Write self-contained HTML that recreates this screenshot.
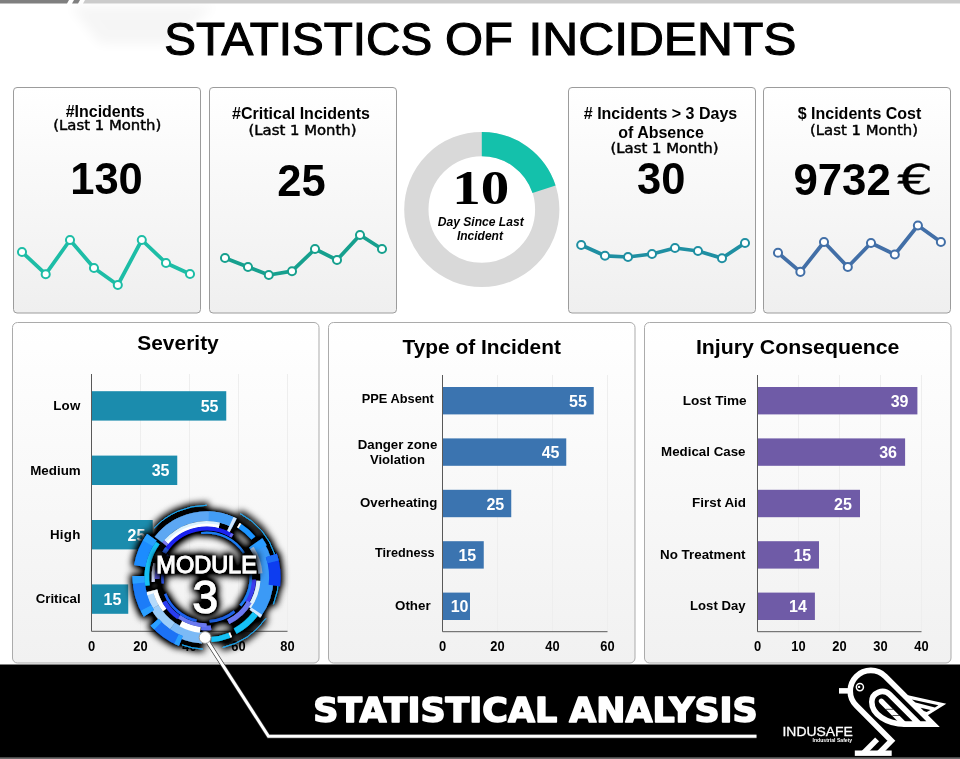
<!DOCTYPE html>
<html lang="en"><head><meta charset="utf-8"><title>Statistics of Incidents</title>
<style>
html,body{margin:0;padding:0;background:#fff;}
body{width:960px;height:759px;overflow:hidden;font-family:"Liberation Sans",sans-serif;}
svg{display:block}
</style></head><body>
<svg width="960" height="759" viewBox="0 0 960 759">
<defs>
<linearGradient id="cardg" x1="0" y1="0" x2="0" y2="1"><stop offset="0" stop-color="#ffffff"/><stop offset="1" stop-color="#efefef"/></linearGradient>
<linearGradient id="paneg" x1="0" y1="0" x2="0" y2="1"><stop offset="0" stop-color="#ffffff"/><stop offset="1" stop-color="#f1f1f1"/></linearGradient>
<filter id="bshadow" x="-20%" y="-20%" width="140%" height="140%"><feMorphology in="SourceAlpha" operator="dilate" radius="1.6" result="d"/><feGaussianBlur in="d" stdDeviation="3.6" result="b"/><feComponentTransfer in="b" result="s"><feFuncA type="linear" slope="1.3"/></feComponentTransfer><feMerge><feMergeNode in="s"/><feMergeNode in="SourceGraphic"/></feMerge></filter>
<filter id="tshadow" x="-30%" y="-30%" width="160%" height="160%"><feMorphology in="SourceAlpha" operator="dilate" radius="0.8" result="d"/><feGaussianBlur in="d" stdDeviation="4" result="b"/><feComponentTransfer in="b" result="s"><feFuncA type="linear" slope="2.3"/></feComponentTransfer><feMerge><feMergeNode in="s"/><feMergeNode in="SourceGraphic"/></feMerge></filter>
<filter id="glow2" x="-30%" y="-30%" width="160%" height="160%"><feGaussianBlur stdDeviation="6"/></filter>
</defs>
<rect width="960" height="759" fill="#ffffff"/>

<polygon points="70,6 215,6 170,44 100,44" fill="#000" opacity="0.035" filter="url(#glow2)"/>
<g id="topbar">
<polygon points="0,0 69,0 67,3.4 0,3.4" fill="#7f7f7f"/>
<polygon points="74,0 80,0 78,3.4 72,3.4" fill="#7f7f7f"/>
<polygon points="85,0 960,0 960,3.4 83,3.4" fill="#cbcbcb"/>
</g>
<text x="164.2" y="55.2" font-family='"Liberation Sans", sans-serif' font-size="46.5" font-weight="400" text-anchor="start" fill="#000" textLength="268" lengthAdjust="spacingAndGlyphs" stroke="#000" stroke-width="1.1">STATISTICS</text>
<text x="445.0" y="55.2" font-family='"Liberation Sans", sans-serif' font-size="46.5" font-weight="400" text-anchor="start" fill="#000" textLength="68" lengthAdjust="spacingAndGlyphs" stroke="#000" stroke-width="1.1">OF</text>
<text x="528.5" y="55.2" font-family='"Liberation Sans", sans-serif' font-size="46.5" font-weight="400" text-anchor="start" fill="#000" textLength="268" lengthAdjust="spacingAndGlyphs" stroke="#000" stroke-width="1.1">INCIDENTS</text>
<rect x="13.5" y="87.5" width="187" height="225.5" rx="3.5" fill="url(#cardg)" stroke="#9c9c9c" stroke-width="1"/>
<rect x="209.5" y="87.5" width="187" height="225.5" rx="3.5" fill="url(#cardg)" stroke="#9c9c9c" stroke-width="1"/>
<rect x="568.5" y="87.5" width="187" height="225.5" rx="3.5" fill="url(#cardg)" stroke="#9c9c9c" stroke-width="1"/>
<rect x="763.5" y="87.5" width="187" height="225.5" rx="3.5" fill="url(#cardg)" stroke="#9c9c9c" stroke-width="1"/>
<text x="105.2" y="116.5" font-family='"Liberation Sans", sans-serif' font-size="16" font-weight="700" text-anchor="middle" fill="#000" textLength="79" lengthAdjust="spacingAndGlyphs">#Incidents</text>
<text x="107.3" y="130.3" font-family='"DejaVu Sans", "Liberation Sans", sans-serif' font-size="14.6" font-weight="400" text-anchor="middle" fill="#000" textLength="108" lengthAdjust="spacingAndGlyphs" stroke="#000" stroke-width="0.45">(Last 1 Month)</text>
<text x="106.5" y="194" font-family='"Liberation Sans", sans-serif' font-size="43.5" font-weight="700" text-anchor="middle" fill="#000">130</text>
<text x="301" y="118.8" font-family='"Liberation Sans", sans-serif' font-size="16" font-weight="700" text-anchor="middle" fill="#000">#Critical Incidents</text>
<text x="302.5" y="135.3" font-family='"DejaVu Sans", "Liberation Sans", sans-serif' font-size="14.6" font-weight="400" text-anchor="middle" fill="#000" textLength="108" lengthAdjust="spacingAndGlyphs" stroke="#000" stroke-width="0.45">(Last 1 Month)</text>
<text x="301.5" y="195.5" font-family='"Liberation Sans", sans-serif' font-size="43.5" font-weight="700" text-anchor="middle" fill="#000">25</text>
<text x="660.5" y="118.8" font-family='"Liberation Sans", sans-serif' font-size="16" font-weight="700" text-anchor="middle" fill="#000"># Incidents &gt; 3 Days</text>
<text x="661" y="137.5" font-family='"Liberation Sans", sans-serif' font-size="16" font-weight="700" text-anchor="middle" fill="#000">of Absence</text>
<text x="664.5" y="153" font-family='"DejaVu Sans", "Liberation Sans", sans-serif' font-size="14.6" font-weight="400" text-anchor="middle" fill="#000" textLength="108" lengthAdjust="spacingAndGlyphs" stroke="#000" stroke-width="0.45">(Last 1 Month)</text>
<text x="661.3" y="193.8" font-family='"Liberation Sans", sans-serif' font-size="43.5" font-weight="700" text-anchor="middle" fill="#000">30</text>
<text x="859.5" y="118.8" font-family='"Liberation Sans", sans-serif' font-size="16" font-weight="700" text-anchor="middle" fill="#000">$ Incidents Cost</text>
<text x="864" y="135.3" font-family='"DejaVu Sans", "Liberation Sans", sans-serif' font-size="14.6" font-weight="400" text-anchor="middle" fill="#000" textLength="108" lengthAdjust="spacingAndGlyphs" stroke="#000" stroke-width="0.45">(Last 1 Month)</text>
<text x="793.4" y="194.5" font-family='"Liberation Sans", sans-serif' font-size="43.8" font-weight="700" text-anchor="start" fill="#000">9732</text>
<text x="897.5" y="194.3" font-family='"DejaVu Sans", "Liberation Sans", sans-serif' font-size="40.5" font-weight="400" text-anchor="start" fill="#000" textLength="35.5" lengthAdjust="spacingAndGlyphs" stroke="#000" stroke-width="0.3">€</text>
<polyline points="22,252 45.7,274.2 70,240 94,268 117.8,285 141.8,240 166,263 190,274" fill="none" stroke="#1dbda6" stroke-width="3.75" stroke-linejoin="round" stroke-linecap="round"/>
<circle cx="22" cy="252" r="4.05" fill="#ffffff" stroke="#1dbda6" stroke-width="2.0"/>
<circle cx="45.7" cy="274.2" r="4.05" fill="#ffffff" stroke="#1dbda6" stroke-width="2.0"/>
<circle cx="70" cy="240" r="4.05" fill="#ffffff" stroke="#1dbda6" stroke-width="2.0"/>
<circle cx="94" cy="268" r="4.05" fill="#ffffff" stroke="#1dbda6" stroke-width="2.0"/>
<circle cx="117.8" cy="285" r="4.05" fill="#ffffff" stroke="#1dbda6" stroke-width="2.0"/>
<circle cx="141.8" cy="240" r="4.05" fill="#ffffff" stroke="#1dbda6" stroke-width="2.0"/>
<circle cx="166" cy="263" r="4.05" fill="#ffffff" stroke="#1dbda6" stroke-width="2.0"/>
<circle cx="190" cy="274" r="4.05" fill="#ffffff" stroke="#1dbda6" stroke-width="2.0"/>
<polyline points="225,258 248,267 268.8,275 292,271.2 315,249 337,260 360,235 382,249" fill="none" stroke="#16a08e" stroke-width="3.75" stroke-linejoin="round" stroke-linecap="round"/>
<circle cx="225" cy="258" r="4.05" fill="#ffffff" stroke="#16a08e" stroke-width="2.0"/>
<circle cx="248" cy="267" r="4.05" fill="#ffffff" stroke="#16a08e" stroke-width="2.0"/>
<circle cx="268.8" cy="275" r="4.05" fill="#ffffff" stroke="#16a08e" stroke-width="2.0"/>
<circle cx="292" cy="271.2" r="4.05" fill="#ffffff" stroke="#16a08e" stroke-width="2.0"/>
<circle cx="315" cy="249" r="4.05" fill="#ffffff" stroke="#16a08e" stroke-width="2.0"/>
<circle cx="337" cy="260" r="4.05" fill="#ffffff" stroke="#16a08e" stroke-width="2.0"/>
<circle cx="360" cy="235" r="4.05" fill="#ffffff" stroke="#16a08e" stroke-width="2.0"/>
<circle cx="382" cy="249" r="4.05" fill="#ffffff" stroke="#16a08e" stroke-width="2.0"/>
<polyline points="581.2,245 605,255.8 628,257 652,254 675,248 698,251 722,258.2 745,243" fill="none" stroke="#1f8fa2" stroke-width="3.75" stroke-linejoin="round" stroke-linecap="round"/>
<circle cx="581.2" cy="245" r="4.05" fill="#ffffff" stroke="#1f8fa2" stroke-width="2.0"/>
<circle cx="605" cy="255.8" r="4.05" fill="#ffffff" stroke="#1f8fa2" stroke-width="2.0"/>
<circle cx="628" cy="257" r="4.05" fill="#ffffff" stroke="#1f8fa2" stroke-width="2.0"/>
<circle cx="652" cy="254" r="4.05" fill="#ffffff" stroke="#1f8fa2" stroke-width="2.0"/>
<circle cx="675" cy="248" r="4.05" fill="#ffffff" stroke="#1f8fa2" stroke-width="2.0"/>
<circle cx="698" cy="251" r="4.05" fill="#ffffff" stroke="#1f8fa2" stroke-width="2.0"/>
<circle cx="722" cy="258.2" r="4.05" fill="#ffffff" stroke="#1f8fa2" stroke-width="2.0"/>
<circle cx="745" cy="243" r="4.05" fill="#ffffff" stroke="#1f8fa2" stroke-width="2.0"/>
<polyline points="778,252.8 800.4,271.9 824,242 847.8,267 871,243 894.8,254.5 917.9,225.5 940.9,242" fill="none" stroke="#426fa7" stroke-width="3.75" stroke-linejoin="round" stroke-linecap="round"/>
<circle cx="778" cy="252.8" r="4.05" fill="#ffffff" stroke="#426fa7" stroke-width="2.0"/>
<circle cx="800.4" cy="271.9" r="4.05" fill="#ffffff" stroke="#426fa7" stroke-width="2.0"/>
<circle cx="824" cy="242" r="4.05" fill="#ffffff" stroke="#426fa7" stroke-width="2.0"/>
<circle cx="847.8" cy="267" r="4.05" fill="#ffffff" stroke="#426fa7" stroke-width="2.0"/>
<circle cx="871" cy="243" r="4.05" fill="#ffffff" stroke="#426fa7" stroke-width="2.0"/>
<circle cx="894.8" cy="254.5" r="4.05" fill="#ffffff" stroke="#426fa7" stroke-width="2.0"/>
<circle cx="917.9" cy="225.5" r="4.05" fill="#ffffff" stroke="#426fa7" stroke-width="2.0"/>
<circle cx="940.9" cy="242" r="4.05" fill="#ffffff" stroke="#426fa7" stroke-width="2.0"/>
<circle cx="481.8" cy="209.5" r="65.44999999999999" fill="none" stroke="#d9d9d9" stroke-width="24.299999999999997"/>
<path d="M481.8,144.05 A65.44999999999999,65.44999999999999 0 0 1 544.05,189.27" fill="none" stroke="#14c1ab" stroke-width="24.299999999999997"/>
<text x="480.8" y="204" font-family='"Liberation Serif", serif' font-size="48.8" font-weight="700" text-anchor="middle" fill="#000" textLength="57" lengthAdjust="spacingAndGlyphs">10</text>
<text x="480.7" y="225.7" font-family='"Liberation Sans", sans-serif' font-size="12" font-weight="700" text-anchor="middle" fill="#000" textLength="86" lengthAdjust="spacingAndGlyphs" style="font-style:italic">Day Since Last</text>
<text x="479.9" y="239.7" font-family='"Liberation Sans", sans-serif' font-size="12" font-weight="700" text-anchor="middle" fill="#000" style="font-style:italic">Incident</text>
<rect x="12.5" y="322.5" width="306.5" height="340.5" rx="5" fill="url(#paneg)" stroke="#ababab" stroke-width="1"/>
<rect x="328.5" y="322.5" width="306.5" height="340.5" rx="5" fill="url(#paneg)" stroke="#ababab" stroke-width="1"/>
<rect x="644.5" y="322.5" width="306.5" height="340.5" rx="5" fill="url(#paneg)" stroke="#ababab" stroke-width="1"/>
<line x1="140.5" y1="374" x2="140.5" y2="631.3" stroke="#eeeeee" stroke-width="1"/>
<line x1="189.5" y1="374" x2="189.5" y2="631.3" stroke="#eeeeee" stroke-width="1"/>
<line x1="238.5" y1="374" x2="238.5" y2="631.3" stroke="#eeeeee" stroke-width="1"/>
<line x1="287.5" y1="374" x2="287.5" y2="631.3" stroke="#eeeeee" stroke-width="1"/>
<rect x="91.5" y="391.2" width="134.75" height="29.4" fill="#1b8cad"/>
<rect x="91.5" y="455.6" width="85.75" height="29.4" fill="#1b8cad"/>
<rect x="91.5" y="520" width="61.25" height="29.4" fill="#1b8cad"/>
<rect x="91.5" y="584.4" width="36.75" height="29.4" fill="#1b8cad"/>
<path d="M91.5,374 V631.3 H287.5" fill="none" stroke="#595959" stroke-width="1"/>
<text x="91.5" y="651" font-family='"Liberation Sans", sans-serif' font-size="14.6" font-weight="700" text-anchor="middle" fill="#000" textLength="7.2" lengthAdjust="spacingAndGlyphs">0</text>
<text x="140.5" y="651" font-family='"Liberation Sans", sans-serif' font-size="14.6" font-weight="700" text-anchor="middle" fill="#000" textLength="14.3" lengthAdjust="spacingAndGlyphs">20</text>
<text x="189.5" y="651" font-family='"Liberation Sans", sans-serif' font-size="14.6" font-weight="700" text-anchor="middle" fill="#000" textLength="14.3" lengthAdjust="spacingAndGlyphs">40</text>
<text x="238.5" y="651" font-family='"Liberation Sans", sans-serif' font-size="14.6" font-weight="700" text-anchor="middle" fill="#000" textLength="14.3" lengthAdjust="spacingAndGlyphs">60</text>
<text x="287.5" y="651" font-family='"Liberation Sans", sans-serif' font-size="14.6" font-weight="700" text-anchor="middle" fill="#000" textLength="14.3" lengthAdjust="spacingAndGlyphs">80</text>
<text x="178" y="349.5" font-family='"Liberation Sans", sans-serif' font-size="20.2" font-weight="700" text-anchor="middle" fill="#000" textLength="81.5" lengthAdjust="spacingAndGlyphs">Severity</text>
<text x="80.7" y="410" font-family='"Liberation Sans", sans-serif' font-size="13.3" font-weight="700" text-anchor="end" fill="#000" letter-spacing="0.3">Low</text>
<text x="80.7" y="474.5" font-family='"Liberation Sans", sans-serif' font-size="13.3" font-weight="700" text-anchor="end" fill="#000" textLength="50.5" lengthAdjust="spacingAndGlyphs">Medium</text>
<text x="80.7" y="539.2" font-family='"Liberation Sans", sans-serif' font-size="13.3" font-weight="700" text-anchor="end" fill="#000" letter-spacing="0.3">High</text>
<text x="80.7" y="603.4" font-family='"Liberation Sans", sans-serif' font-size="13.3" font-weight="700" text-anchor="end" fill="#000" textLength="45" lengthAdjust="spacingAndGlyphs">Critical</text>
<text x="218.5" y="411.8" font-family='"Liberation Sans", sans-serif' font-size="16" font-weight="700" text-anchor="end" fill="#fff">55</text>
<text x="169.5" y="476.2" font-family='"Liberation Sans", sans-serif' font-size="16" font-weight="700" text-anchor="end" fill="#fff">35</text>
<text x="145.3" y="540.6" font-family='"Liberation Sans", sans-serif' font-size="16" font-weight="700" text-anchor="end" fill="#fff">25</text>
<text x="121.3" y="605" font-family='"Liberation Sans", sans-serif' font-size="16" font-weight="700" text-anchor="end" fill="#fff">15</text>
<line x1="497.5" y1="375" x2="497.5" y2="631.7" stroke="#eeeeee" stroke-width="1"/>
<line x1="552.5" y1="375" x2="552.5" y2="631.7" stroke="#eeeeee" stroke-width="1"/>
<line x1="607.5" y1="375" x2="607.5" y2="631.7" stroke="#eeeeee" stroke-width="1"/>
<rect x="442.5" y="387" width="151.25" height="27.4" fill="#3b74b0"/>
<rect x="442.5" y="438.4" width="123.75" height="27.4" fill="#3b74b0"/>
<rect x="442.5" y="489.8" width="68.75" height="27.4" fill="#3b74b0"/>
<rect x="442.5" y="541.2" width="41.25" height="27.4" fill="#3b74b0"/>
<rect x="442.5" y="592.6" width="27.50" height="27.4" fill="#3b74b0"/>
<path d="M442.5,375 V631.7 H607.5" fill="none" stroke="#595959" stroke-width="1"/>
<text x="442.5" y="651" font-family='"Liberation Sans", sans-serif' font-size="14.6" font-weight="700" text-anchor="middle" fill="#000" textLength="7.2" lengthAdjust="spacingAndGlyphs">0</text>
<text x="497.5" y="651" font-family='"Liberation Sans", sans-serif' font-size="14.6" font-weight="700" text-anchor="middle" fill="#000" textLength="14.3" lengthAdjust="spacingAndGlyphs">20</text>
<text x="552.5" y="651" font-family='"Liberation Sans", sans-serif' font-size="14.6" font-weight="700" text-anchor="middle" fill="#000" textLength="14.3" lengthAdjust="spacingAndGlyphs">40</text>
<text x="607.5" y="651" font-family='"Liberation Sans", sans-serif' font-size="14.6" font-weight="700" text-anchor="middle" fill="#000" textLength="14.3" lengthAdjust="spacingAndGlyphs">60</text>
<text x="481.7" y="353.5" font-family='"Liberation Sans", sans-serif' font-size="20" font-weight="700" text-anchor="middle" fill="#000" textLength="158.5" lengthAdjust="spacingAndGlyphs">Type of Incident</text>
<text x="361.7" y="402.8" font-family='"Liberation Sans", sans-serif' font-size="12.4" font-weight="700" text-anchor="start" fill="#000" textLength="72.2" lengthAdjust="spacingAndGlyphs">PPE Absent</text>
<text x="357.7" y="449.2" font-family='"Liberation Sans", sans-serif' font-size="12.4" font-weight="700" text-anchor="start" fill="#000" textLength="79.6" lengthAdjust="spacingAndGlyphs">Danger zone</text>
<text x="370" y="464.2" font-family='"Liberation Sans", sans-serif' font-size="12.4" font-weight="700" text-anchor="start" fill="#000" textLength="54.9" lengthAdjust="spacingAndGlyphs">Violation</text>
<text x="360" y="507.3" font-family='"Liberation Sans", sans-serif' font-size="12.4" font-weight="700" text-anchor="start" fill="#000" textLength="77.3" lengthAdjust="spacingAndGlyphs">Overheating</text>
<text x="375" y="557.3" font-family='"Liberation Sans", sans-serif' font-size="12.4" font-weight="700" text-anchor="start" fill="#000" textLength="59.6" lengthAdjust="spacingAndGlyphs">Tiredness</text>
<text x="395" y="610" font-family='"Liberation Sans", sans-serif' font-size="12.4" font-weight="700" text-anchor="start" fill="#000" textLength="35.6" lengthAdjust="spacingAndGlyphs">Other</text>
<text x="586.9" y="406.8" font-family='"Liberation Sans", sans-serif' font-size="16" font-weight="700" text-anchor="end" fill="#fff">55</text>
<text x="559.5" y="458.2" font-family='"Liberation Sans", sans-serif' font-size="16" font-weight="700" text-anchor="end" fill="#fff">45</text>
<text x="504.2" y="509.6" font-family='"Liberation Sans", sans-serif' font-size="16" font-weight="700" text-anchor="end" fill="#fff">25</text>
<text x="476.2" y="561" font-family='"Liberation Sans", sans-serif' font-size="16" font-weight="700" text-anchor="end" fill="#fff">15</text>
<text x="468.5" y="612.4" font-family='"Liberation Sans", sans-serif' font-size="16" font-weight="700" text-anchor="end" fill="#fff">10</text>
<line x1="798.5" y1="375" x2="798.5" y2="631.7" stroke="#eeeeee" stroke-width="1"/>
<line x1="839.5" y1="375" x2="839.5" y2="631.7" stroke="#eeeeee" stroke-width="1"/>
<line x1="880.5" y1="375" x2="880.5" y2="631.7" stroke="#eeeeee" stroke-width="1"/>
<line x1="921.5" y1="375" x2="921.5" y2="631.7" stroke="#eeeeee" stroke-width="1"/>
<rect x="757.5" y="387" width="159.90" height="27.4" fill="#6f5ba7"/>
<rect x="757.5" y="438.4" width="147.60" height="27.4" fill="#6f5ba7"/>
<rect x="757.5" y="489.8" width="102.50" height="27.4" fill="#6f5ba7"/>
<rect x="757.5" y="541.2" width="61.50" height="27.4" fill="#6f5ba7"/>
<rect x="757.5" y="592.6" width="57.40" height="27.4" fill="#6f5ba7"/>
<path d="M757.5,375 V631.7 H921.5" fill="none" stroke="#595959" stroke-width="1"/>
<text x="757.5" y="651" font-family='"Liberation Sans", sans-serif' font-size="14.6" font-weight="700" text-anchor="middle" fill="#000" textLength="7.2" lengthAdjust="spacingAndGlyphs">0</text>
<text x="798.5" y="651" font-family='"Liberation Sans", sans-serif' font-size="14.6" font-weight="700" text-anchor="middle" fill="#000" textLength="14.3" lengthAdjust="spacingAndGlyphs">10</text>
<text x="839.5" y="651" font-family='"Liberation Sans", sans-serif' font-size="14.6" font-weight="700" text-anchor="middle" fill="#000" textLength="14.3" lengthAdjust="spacingAndGlyphs">20</text>
<text x="880.5" y="651" font-family='"Liberation Sans", sans-serif' font-size="14.6" font-weight="700" text-anchor="middle" fill="#000" textLength="14.3" lengthAdjust="spacingAndGlyphs">30</text>
<text x="921.5" y="651" font-family='"Liberation Sans", sans-serif' font-size="14.6" font-weight="700" text-anchor="middle" fill="#000" textLength="14.3" lengthAdjust="spacingAndGlyphs">40</text>
<text x="797.7" y="354.3" font-family='"Liberation Sans", sans-serif' font-size="20" font-weight="700" text-anchor="middle" fill="#000" textLength="203.5" lengthAdjust="spacingAndGlyphs">Injury Consequence</text>
<text x="746.7" y="405" font-family='"Liberation Sans", sans-serif' font-size="13.3" font-weight="700" text-anchor="end" fill="#000" textLength="64.0" lengthAdjust="spacingAndGlyphs">Lost Time</text>
<text x="745.5" y="455.7" font-family='"Liberation Sans", sans-serif' font-size="13.3" font-weight="700" text-anchor="end" fill="#000" textLength="84.4" lengthAdjust="spacingAndGlyphs">Medical Case</text>
<text x="746" y="506.7" font-family='"Liberation Sans", sans-serif' font-size="13.3" font-weight="700" text-anchor="end" fill="#000" textLength="53.9" lengthAdjust="spacingAndGlyphs">First Aid</text>
<text x="745.5" y="559" font-family='"Liberation Sans", sans-serif' font-size="13.3" font-weight="700" text-anchor="end" fill="#000" textLength="85.4" lengthAdjust="spacingAndGlyphs">No Treatment</text>
<text x="745.5" y="610" font-family='"Liberation Sans", sans-serif' font-size="13.3" font-weight="700" text-anchor="end" fill="#000" textLength="55.4" lengthAdjust="spacingAndGlyphs">Lost Day</text>
<text x="908.5" y="406.8" font-family='"Liberation Sans", sans-serif' font-size="16" font-weight="700" text-anchor="end" fill="#fff">39</text>
<text x="897" y="458.2" font-family='"Liberation Sans", sans-serif' font-size="16" font-weight="700" text-anchor="end" fill="#fff">36</text>
<text x="851.9" y="509.6" font-family='"Liberation Sans", sans-serif' font-size="16" font-weight="700" text-anchor="end" fill="#fff">25</text>
<text x="811.2" y="561" font-family='"Liberation Sans", sans-serif' font-size="16" font-weight="700" text-anchor="end" fill="#fff">15</text>
<text x="806.9" y="612.4" font-family='"Liberation Sans", sans-serif' font-size="16" font-weight="700" text-anchor="end" fill="#fff">14</text>
<rect x="0" y="664.5" width="960" height="94.5" fill="#000"/>
<rect x="0" y="757.3" width="960" height="1.7" fill="#6a6a6a"/>
<text x="313.2" y="721.8" font-family='"DejaVu Sans", "Liberation Sans", sans-serif' font-size="33.4" font-weight="700" text-anchor="start" fill="#fff" textLength="444.5" lengthAdjust="spacingAndGlyphs" stroke="#fff" stroke-width="1.6" stroke-linejoin="round">STATISTICAL ANALYSIS</text>
<g id="badge" filter="url(#bshadow)">
<path d="M206.60,530.90 A46.30,46.30 0 1 1 206.52,530.90" fill="none" stroke="#000000" stroke-width="1.20"/>
<path d="M154.02,528.16 A71.90,71.90 0 0 1 206.60,505.30" fill="none" stroke="#1aa6f2" stroke-width="1.00"/>
<path d="M240.36,513.72 A71.90,71.90 0 0 1 274.98,554.98" fill="none" stroke="#1aa6f2" stroke-width="1.00"/>
<path d="M278.69,575.94 A72.10,72.10 0 0 1 273.45,604.21" fill="none" stroke="#1aa6f2" stroke-width="1.00"/>
<path d="M265.66,618.55 A72.10,72.10 0 0 1 222.82,647.45" fill="none" stroke="#1aa6f2" stroke-width="1.00"/>
<path d="M202.83,649.10 A72.00,72.00 0 0 1 181.97,644.86" fill="none" stroke="#1aa6f2" stroke-width="1.00"/>
<path d="M158.53,539.64 A61.00,61.00 0 0 1 234.29,522.85" fill="none" stroke="#5ba7f3" stroke-width="9.60"/>
<path d="M208.73,516.24 A61.00,61.00 0 0 1 231.41,521.47" fill="none" stroke="#429cf5" stroke-width="9.60"/>
<path d="M229.58,525.58 A56.50,56.50 0 0 1 232.25,526.86" fill="none" stroke="#d4e8fd" stroke-width="19.00"/>
<path d="M166.30,542.17 A53.40,53.40 0 0 1 219.16,525.30" fill="none" stroke="#d9f2ff" stroke-width="5.60"/>
<path d="M167.28,543.02 A52.10,52.10 0 0 1 218.85,526.56" fill="none" stroke="#ffffff" stroke-width="3.00"/>
<path d="M164.52,544.32 A53.40,53.40 0 0 1 166.30,542.17" fill="none" stroke="#7a7af0" stroke-width="5.60"/>
<path d="M165.80,550.70 A48.65,48.65 0 0 1 232.16,535.81" fill="none" stroke="#1a22f0" stroke-width="3.90"/>
<path d="M164.29,552.78 A48.85,48.85 0 0 1 167.08,548.49" fill="none" stroke="#2a60e0" stroke-width="4.30"/>
<path d="M230.19,534.65 A48.65,48.65 0 0 1 232.38,535.94" fill="none" stroke="#6a6af0" stroke-width="3.90"/>
<path d="M201.18,533.03 A44.50,44.50 0 0 1 243.92,552.96" fill="none" stroke="#1e7cf2" stroke-width="2.20"/>
<path d="M239.82,526.04 A61.00,61.00 0 0 1 253.33,537.99" fill="none" stroke="#1e94ff" stroke-width="5.00"/>
<path d="M238.47,525.19 A61.00,61.00 0 0 1 239.82,526.04" fill="none" stroke="#ffffff" stroke-width="5.00"/>
<path d="M257.34,544.25 A60.50,60.50 0 0 1 255.55,612.76" fill="none" stroke="#3a9af6" stroke-width="13.00"/>
<path d="M255.75,542.79 A60.00,60.00 0 0 1 259.58,549.03" fill="none" stroke="#2a9cff" stroke-width="16.00"/>
<path d="M251.89,547.79 A54.00,54.00 0 0 1 260.47,573.43" fill="none" stroke="#a9c2e2" stroke-width="4.00"/>
<path d="M271.32,555.54 A68.25,68.25 0 0 1 274.34,585.52" fill="none" stroke="#0a3cf0" stroke-width="11.50"/>
<path d="M271.32,555.54 A68.25,68.25 0 0 1 273.10,561.85" fill="none" stroke="#1e6cf5" stroke-width="11.50"/>
<path d="M258.47,580.83 A52.00,52.00 0 0 1 249.20,607.03" fill="none" stroke="#dff2ff" stroke-width="4.00"/>
<path d="M253.79,579.67 A47.25,47.25 0 0 1 246.67,602.24" fill="none" stroke="#3a3cf0" stroke-width="4.50"/>
<path d="M249.47,601.95 A49.50,49.50 0 0 1 228.30,621.69" fill="none" stroke="#6a78f0" stroke-width="5.00"/>
<path d="M245.71,556.40 A44.30,44.30 0 0 1 240.54,605.68" fill="none" stroke="#1e7cf2" stroke-width="2.60"/>
<path d="M234.48,611.63 A44.30,44.30 0 0 1 209.69,621.39" fill="none" stroke="#1e62e6" stroke-width="2.60"/>
<path d="M256.76,611.03 A60.50,60.50 0 0 1 254.92,613.61" fill="none" stroke="#d4e8fd" stroke-width="13.00"/>
<path d="M255.32,613.91 A61.00,61.00 0 0 1 235.24,631.06" fill="none" stroke="#12c0f5" stroke-width="6.00"/>
<path d="M229.51,635.35 A62.50,62.50 0 0 1 211.50,639.51" fill="none" stroke="#12c0f5" stroke-width="5.00"/>
<path d="M231.02,634.73 A62.50,62.50 0 0 1 229.51,635.35" fill="none" stroke="#ffffff" stroke-width="5.00"/>
<path d="M211.02,627.76 A50.75,50.75 0 0 1 201.30,627.67" fill="none" stroke="#5a6cf0" stroke-width="4.50"/>
<path d="M202.34,638.05 A61.00,61.00 0 0 1 171.61,627.17" fill="none" stroke="#7cbaf6" stroke-width="11.00"/>
<path d="M172.33,626.14 A59.75,59.75 0 0 1 154.85,607.08" fill="none" stroke="#9ccdf9" stroke-width="8.50"/>
<path d="M155.50,606.70 A59.00,59.00 0 0 1 149.61,592.47" fill="none" stroke="#b4dafb" stroke-width="7.00"/>
<path d="M200.14,629.80 A53.00,53.00 0 0 1 180.91,623.55" fill="none" stroke="#ffffff" stroke-width="6.00"/>
<path d="M164.64,609.98 A53.25,53.25 0 0 1 155.16,590.98" fill="none" stroke="#ffffff" stroke-width="4.50"/>
<path d="M152.57,593.72 A56.50,56.50 0 0 1 151.78,590.87" fill="none" stroke="#f4faff" stroke-width="11.00"/>
<path d="M206.60,625.20 A48.00,48.00 0 0 1 179.07,616.52" fill="none" stroke="#6a78f0" stroke-width="4.00"/>
<path d="M178.64,617.13 A48.75,48.75 0 0 1 164.38,601.58" fill="none" stroke="#2a3cf0" stroke-width="4.50"/>
<path d="M196.53,620.80 A44.75,44.75 0 0 1 165.11,593.96" fill="none" stroke="#1e62f0" stroke-width="2.50"/>
<path d="M180.85,640.94 A68.75,68.75 0 0 1 154.71,622.30" fill="none" stroke="#1a72f5" stroke-width="10.50"/>
<path d="M180.85,640.94 A68.75,68.75 0 0 1 176.46,638.99" fill="none" stroke="#2aa0ff" stroke-width="10.50"/>
<path d="M157.99,625.81 A68.75,68.75 0 0 1 154.71,622.30" fill="none" stroke="#2aa0ff" stroke-width="10.50"/>
<path d="M148.93,613.23 A68.00,68.00 0 0 1 138.61,576.01" fill="none" stroke="#1c7cf8" stroke-width="12.00"/>
<path d="M148.93,613.23 A68.00,68.00 0 0 1 146.01,608.07" fill="none" stroke="#2aa0ff" stroke-width="12.00"/>
<path d="M138.86,583.13 A68.00,68.00 0 0 1 138.61,576.01" fill="none" stroke="#2aa0ff" stroke-width="12.00"/>
<path d="M147.43,585.52 A59.75,59.75 0 0 1 157.66,542.93" fill="none" stroke="#12c0f4" stroke-width="4.50"/>
<path d="M139.78,566.02 A67.75,67.75 0 0 1 151.79,537.38" fill="none" stroke="#1e8cff" stroke-width="11.50"/>
<path d="M147.93,543.33 A67.75,67.75 0 0 1 151.79,537.38" fill="none" stroke="#2aa0ff" stroke-width="11.50"/>
<path d="M153.30,581.86 A53.50,53.50 0 0 1 154.92,563.35" fill="none" stroke="#d0d8f8" stroke-width="3.00"/>
<path d="M157.13,578.93 A49.50,49.50 0 0 1 159.26,562.73" fill="none" stroke="#5a5ae0" stroke-width="5.00"/>
<path d="M162.78,583.36 A44.25,44.25 0 0 1 168.28,555.08" fill="none" stroke="#2a50e0" stroke-width="2.50"/>
</g>
<g filter="url(#tshadow)">
<text x="206.6" y="573" font-family='"Liberation Sans", sans-serif' font-size="23" font-weight="400" text-anchor="middle" fill="#fff" textLength="100.5" lengthAdjust="spacingAndGlyphs" stroke="#fff" stroke-width="0.75">MODULE</text>
<text x="205.4" y="613.3" font-family='"Liberation Sans", sans-serif' font-size="46" font-weight="400" text-anchor="middle" fill="#fff" stroke="#fff" stroke-width="1">3</text>
</g>
<path d="M205,637.5 L268.5,736.3 H756.5" fill="none" stroke="#3a3a3a" stroke-width="4.2"/>
<path d="M205,637.5 L268.5,736.3 H756.5" fill="none" stroke="#fff" stroke-width="3"/>
<circle cx="205.1" cy="637.5" r="5.9" fill="#fff" stroke="#8a8a8a" stroke-width="0.8"/>
<g id="bird" fill="none" stroke="#fff" stroke-miterlimit="6">
<path d="M878.90,753.2 L891.38,740.72 L856.23,705.57 A20.6,20.6 0 0 1 885.37,676.43 L933.03,724.1 L905,724.1 A33.20,22.10 0 0 1 871.80,702.0 A10.5,10.5 0 0 1 889.72,694.58 L919.25,724.1" stroke-width="5.6" stroke-linejoin="miter"/>
<path d="M881.3,701.2 L904.2,724.1" stroke-width="5.2" stroke-linecap="round"/>
<path d="M877.1,739.4 L863.40,753.2" stroke-width="5.6"/>
<circle cx="859.9" cy="687.1" r="3.55" stroke-width="1.5"/>
</g>
<g fill="#fff">
<circle cx="859.1" cy="686.9" r="1.2"/>
<rect x="839" y="688.1" width="9.6" height="5.5"/>
<rect x="854.8" y="750.5" width="36.9" height="5.4"/>
<polygon points="906.9,695.0 946.3,703.75 927.4,715.6"/>
</g>
<g fill="#000">
<polygon points="911.9,699.4 938.4,705.2 934.9,707.5 915.5,702.6"/>
<polygon points="920.6,707.7 930.5,709.9 926.6,712 923.8,710.9"/>
</g>
<path d="M885.6,709.3 H893.3 M892.4,715.5 H899.8" stroke="#000" stroke-width="0.9" opacity="0.75" fill="none"/>
<text x="782.5" y="735.7" font-family='"Liberation Sans", sans-serif' font-size="13.3" font-weight="400" text-anchor="start" fill="#fff" textLength="70.2" lengthAdjust="spacingAndGlyphs" stroke="#fff" stroke-width="0.3">INDUSAFE</text>
<text x="812.6" y="741.7" font-family='"Liberation Sans", sans-serif' font-size="4.8" font-weight="700" text-anchor="start" fill="#fff" textLength="39.6" lengthAdjust="spacingAndGlyphs">Industrial Safety</text>
</svg></body></html>
